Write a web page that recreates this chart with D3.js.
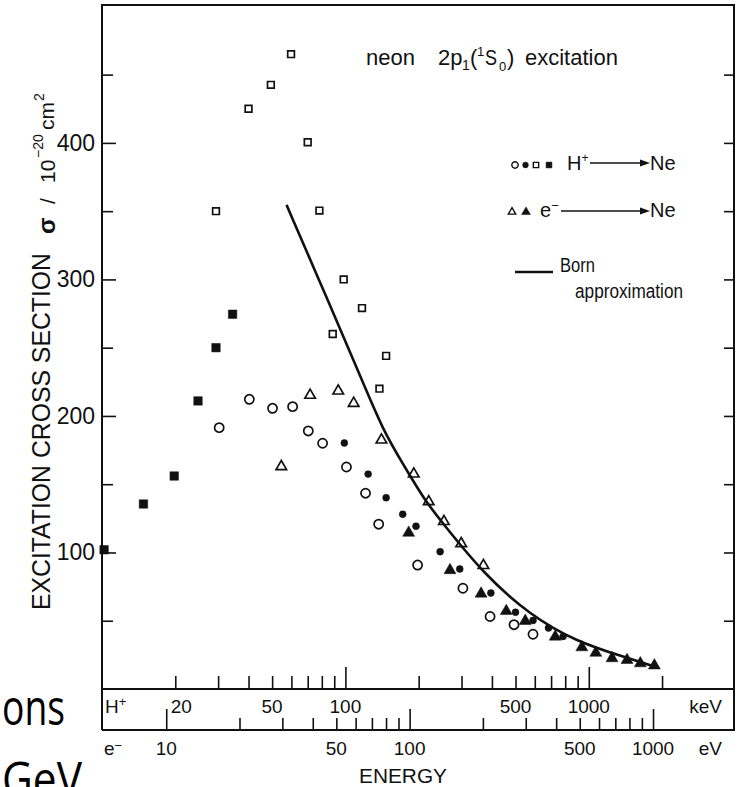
<!DOCTYPE html>
<html>
<head>
<meta charset="utf-8">
<script src="https://cdn.jsdelivr.net/npm/d3@7.9.0/dist/d3.min.js"></script>
<style>
  html, body { margin: 0; padding: 0; background: #fff; }
  svg { display: block; }
  text { font-family: "Liberation Sans", Arial, sans-serif; fill: #111; }
</style>
</head>
<body>
<div id="chart"></div>
<script>
// Proton energies in keV, electron energies in eV, cross sections in 1e-20 cm^2

// H+ -> Ne, open circles
const openCircleE = [30.3, 40.3, 50.2, 60.7, 70.4, 80.6, 101, 121, 137, 198, 304, 393, 493, 590];
const openCircleS = [191.4, 212.2, 205.6, 206.8, 189, 180, 162.6, 143.4, 120.7, 90.8, 73.8, 53.1, 47.1, 40.1];

// H+ -> Ne, filled dots
const dotE = [99, 124, 147, 172, 195, 245, 295, 396, 500, 590, 683, 784];
const dotS = [180.2, 157.4, 140.1, 128, 119.2, 100.6, 87.9, 70.3, 56.2, 50.2, 44.7, 38.5];

// H+ -> Ne, open squares
const openSquareE = [29.4, 40, 49.4, 59.8, 70, 78.2, 88.7, 98.4, 117, 138, 147];
const openSquareS = [350, 425, 442.5, 465, 400.5, 350.4, 260, 300, 279, 220, 244];

// H+ -> Ne, filled squares
const squareE = [10.2, 14.8, 19.8, 24.8, 29.4, 34.4];
const squareS = [102, 135.5, 156, 211, 250, 274.5];

// e- -> Ne, open triangles (eV)
const openTriE = [29.7, 39, 50.9, 58.9, 76.6, 104, 119.8, 138.3, 162.9, 201];
const openTriS = [162.9, 215.2, 218.3, 209.3, 182.4, 157.5, 137.2, 122.7, 106.5, 90.5];

// e- -> Ne, filled triangles (eV)
const triE = [99.1, 146.5, 196.6, 249.5, 298.5, 396.5, 510, 582, 678.6, 782, 887, 1013];
const triS = [114.4, 87, 69.8, 57.1, 49.8, 38.3, 30.5, 26.5, 22.5, 21.2, 18.8, 17.2];

// Born approximation (keV)
const bornE = [57.3, 86, 114, 143, 175, 212, 255, 367, 572, 890, 1384, 1870];
const bornS = [354.6, 282, 231, 189, 163, 138, 120, 85, 54.2, 34.7, 23.7, 16.3];

// axis ticks
const yMinorTicks = [50, 150, 250, 350, 450];
const yMajorTicks = [100, 200, 300, 400];
const hMinorTicks = [20, 30, 40, 50, 60, 70, 80, 90, 200, 300, 400, 500, 600, 700, 800, 900, 2000];
const hMajorTicks = [100, 1000];
const hLabels = [20, 50, 100, 500, 1000];
const eMinorTicks = [20, 30, 40, 50, 60, 70, 80, 90, 200, 300, 400, 500, 600, 700, 800, 900];
const eMajorTicks = [10, 100, 1000];
const eLabels = [10, 50, 100, 500, 1000];

const width = 738;
const height = 787;
const ink = '#111';
const frame = { left: 102, right: 734, top: 5, bottom: 689, eLine: 730 };

const svg = d3.select('#chart')
  .append('svg')
  .attr('width', width)
  .attr('height', height)
  .attr('viewBox', `0 0 ${width} ${height}`);

// Scales: proton keV on the main axis, electron eV at equal velocity (E_e = E_p / 1.836)
const massRatio = 1.836;
const x = d3.scaleLog().domain([10, 3950]).range([frame.left, frame.right]);
const xe = d3.scaleLog().domain(x.domain().map(d => d / massRatio)).range(x.range());
const y = d3.scaleLinear().domain([0, 501]).range([frame.bottom, frame.top]);

// slide text peeking out on the left
svg.append('text').attr('x', 2).attr('y', 725)
  .attr('textLength', 63).attr('lengthAdjust', 'spacingAndGlyphs')
  .style('font-family', '"Open Sans", "Noto Sans", sans-serif').style('font-size', '50px').style('fill', '#000')
  .text('ons');
svg.append('text').attr('x', 2).attr('y', 797)
  .attr('textLength', 80).attr('lengthAdjust', 'spacingAndGlyphs')
  .style('font-family', '"Open Sans", "Noto Sans", sans-serif').style('font-size', '50px').style('fill', '#000')
  .text('GeV');

// frame
const frameG = svg.append('g').attr('stroke', ink).attr('stroke-width', 2).attr('fill', 'none');
frameG.append('path')
  .attr('d', `M${frame.left},${frame.eLine}V${frame.top}H${frame.right}V${frame.eLine}H${frame.left}`);
frameG.append('line')
  .attr('x1', frame.left).attr('x2', frame.right)
  .attr('y1', frame.bottom).attr('y2', frame.bottom);

// Y axis left (ticks inward, labels outside)
const yAxisMinor = svg.append('g')
  .attr('transform', `translate(${frame.left},0)`)
  .call(d3.axisLeft(y).tickValues(yMinorTicks).tickSize(-11).tickFormat(''));
const yAxisMajor = svg.append('g')
  .attr('transform', `translate(${frame.left},0)`)
  .call(d3.axisLeft(y).tickValues(yMajorTicks).tickSize(-14).tickPadding(7));
yAxisMajor.selectAll('text').style('font-size', '23px').attr('fill', ink)
  .style('font-family', '"Liberation Sans", Arial, sans-serif');

// Y axis right (ticks inward)
const yAxisRight = svg.append('g')
  .attr('transform', `translate(${frame.right},0)`)
  .call(d3.axisRight(y).tickValues(yMinorTicks.concat(yMajorTicks)).tickSize(-10).tickFormat(''));

// H+ energy axis, ticks pointing up from the plot bottom
const hAxisMinor = svg.append('g')
  .attr('transform', `translate(0,${frame.bottom})`)
  .call(d3.axisTop(x).tickValues(hMinorTicks).tickSize(13).tickFormat(''));
const hAxisMajor = svg.append('g')
  .attr('transform', `translate(0,${frame.bottom})`)
  .call(d3.axisTop(x).tickValues(hMajorTicks).tickSize(22).tickFormat(''));

// e- energy axis, ticks pointing up from the lower line
const eAxisMinor = svg.append('g')
  .attr('transform', `translate(0,${frame.eLine})`)
  .call(d3.axisTop(xe).tickValues(eMinorTicks).tickSize(12).tickFormat(''));
const eAxisMajor = svg.append('g')
  .attr('transform', `translate(0,${frame.eLine})`)
  .call(d3.axisTop(xe).tickValues(eMajorTicks).tickSize(21).tickFormat(''));

[yAxisMinor, yAxisMajor, yAxisRight, hAxisMinor, hAxisMajor, eAxisMinor, eAxisMajor].forEach(g => {
  g.select('.domain').remove();
  g.selectAll('line').attr('stroke', ink).attr('stroke-width', 1.6);
});

// energy labels
const labelG = svg.append('g').style('font-size', '19px');
labelG.selectAll('.hlab').data(hLabels).join('text')
  .attr('class', 'hlab')
  .attr('x', d => x(d) + (d === 20 ? 6 : 0))
  .attr('y', 713)
  .attr('text-anchor', 'middle')
  .text(d => d);
labelG.selectAll('.elab').data(eLabels).join('text')
  .attr('class', 'elab')
  .attr('x', d => xe(d))
  .attr('y', 755)
  .attr('text-anchor', 'middle')
  .text(d => d);

const hp = labelG.append('text').attr('x', 105).attr('y', 713).text('H');
hp.append('tspan').attr('dy', -7).style('font-size', '13px').text('+');
labelG.append('text').attr('x', 722).attr('y', 713).attr('text-anchor', 'end').text('keV');
const em = labelG.append('text').attr('x', 104).attr('y', 755).text('e');
em.append('tspan').attr('dy', -5).style('font-size', '13px').text('\u2212');
labelG.append('text').attr('x', 722).attr('y', 755).attr('text-anchor', 'end').text('eV');
labelG.append('text').attr('x', 403).attr('y', 783).attr('text-anchor', 'middle')
  .attr('textLength', 88).attr('lengthAdjust', 'spacingAndGlyphs').style('font-size', '20px')
  .text('ENERGY');

// Y title, written bottom to top
svg.append('text')
  .attr('transform', 'translate(50,610) rotate(-90)')
  .attr('textLength', 357).attr('lengthAdjust', 'spacingAndGlyphs')
  .style('font-size', '25px')
  .text('EXCITATION  CROSS  SECTION');
const vText = (str, bx, by, size, weight) => svg.append('text')
  .attr('transform', `translate(${bx},${by}) rotate(-90)`)
  .style('font-size', size + 'px')
  .style('font-weight', weight || 'normal')
  .text(str);
vText('\u03c3', 55, 234, 24, 'bold');
vText('/', 55, 204, 21);
vText('10', 55, 183, 21);
vText('\u221220', 43, 158, 14);
vText('cm', 54, 130, 21);
vText('2', 44, 101, 14);

// Title
const title = svg.append('text').attr('y', 65).style('font-size', '22px');
title.append('tspan').attr('x', 366).text('neon');
title.append('tspan').attr('x', 438).text('2p');
title.append('tspan').attr('x', 462).attr('y', 70).style('font-size', '14px').text('1');
title.append('tspan').attr('x', 470).attr('y', 65).text('(');
title.append('tspan').attr('x', 477).attr('y', 56).style('font-size', '13px').text('1');
title.append('tspan').attr('x', 485).attr('y', 65).attr('textLength', 12).attr('lengthAdjust', 'spacingAndGlyphs').text('S');
title.append('tspan').attr('x', 499).attr('y', 71).style('font-size', '13px').text('0');
title.append('tspan').attr('x', 507).attr('y', 65).text(')');
title.append('tspan').attr('x', 525).text('excitation');

// Born approximation curve
const line = d3.line()
  .x(d => x(d[0]))
  .y(d => y(d[1]))
  .curve(d3.curveBasis);
svg.append('path')
  .datum(d3.zip(bornE, bornS))
  .attr('d', line)
  .attr('fill', 'none')
  .attr('stroke', ink)
  .attr('stroke-width', 2.6);

// Data points
function plotSeries(energies, sigmas, scale, type, size, filled) {
  svg.append('g')
    .selectAll('path')
    .data(d3.zip(energies, sigmas))
    .join('path')
    .attr('transform', d => `translate(${scale(d[0])},${y(d[1])})`)
    .attr('d', d3.symbol().type(type).size(size))
    .attr('fill', filled ? ink : 'none')
    .attr('stroke', ink)
    .attr('stroke-width', filled ? 0.5 : 1.7);
}
plotSeries(openCircleE, openCircleS, x, d3.symbolCircle, 66, false);
plotSeries(dotE, dotS, x, d3.symbolCircle, 38, true);
plotSeries(openSquareE, openSquareS, x, d3.symbolSquare, 45, false);
plotSeries(squareE, squareS, x, d3.symbolSquare, 72, true);
plotSeries(openTriE, openTriS, xe, d3.symbolTriangle, 48, false);
plotSeries(triE, triS, xe, d3.symbolTriangle, 62, true);

// Legend
const legend = svg.append('g');
const legendSym = (cx, cy, type, size, filled) => legend.append('path')
  .attr('transform', `translate(${cx},${cy})`)
  .attr('d', d3.symbol().type(type).size(size)())
  .attr('fill', filled ? ink : 'none')
  .attr('stroke', ink)
  .attr('stroke-width', filled ? 0.5 : 1.4);
legendSym(515, 165, d3.symbolCircle, 32, false);
legendSym(525.5, 165, d3.symbolCircle, 26, true);
legendSym(536, 165, d3.symbolSquare, 28, false);
legendSym(549, 165, d3.symbolSquare, 34, true);
legendSym(512, 212, d3.symbolTriangle, 24, false);
legendSym(526, 212, d3.symbolTriangle, 34, true);

const arrow = (x1, x2, yy) => {
  legend.append('line').attr('x1', x1).attr('x2', x2 - 6).attr('y1', yy).attr('y2', yy)
    .attr('stroke', ink).attr('stroke-width', 1.3);
  legend.append('path').attr('d', `M${x2},${yy}L${x2 - 10},${yy - 3.5}L${x2 - 10},${yy + 3.5}Z`).attr('fill', ink);
};

const lg1 = legend.append('text').attr('x', 567).attr('y', 170).style('font-size', '20px').text('H');
lg1.append('tspan').attr('dy', -8).style('font-size', '12px').text('+');
arrow(590, 650, 163);
legend.append('text').attr('x', 650).attr('y', 170).style('font-size', '20px').text('Ne');

const lg2 = legend.append('text').attr('x', 540).attr('y', 217).style('font-size', '20px').text('e');
lg2.append('tspan').attr('dy', -7).style('font-size', '13px').text('\u2212');
arrow(561, 650, 211);
legend.append('text').attr('x', 650).attr('y', 217).style('font-size', '20px').text('Ne');

legend.append('line').attr('x1', 515).attr('x2', 553).attr('y1', 272).attr('y2', 272)
  .attr('stroke', ink).attr('stroke-width', 2.6);
legend.append('text').attr('x', 560).attr('y', 272).style('font-size', '20px')
  .attr('textLength', 35).attr('lengthAdjust', 'spacingAndGlyphs').text('Born');
legend.append('text').attr('x', 575).attr('y', 298).style('font-size', '20px')
  .attr('textLength', 108).attr('lengthAdjust', 'spacingAndGlyphs').text('approximation');
</script>
</body>
</html>
